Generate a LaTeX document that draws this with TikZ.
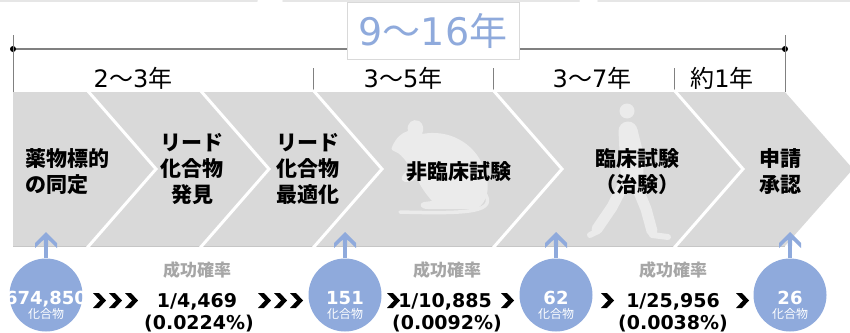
\documentclass[tikz,border=0pt]{standalone}
\usepackage{fontspec}
\setmainfont{Noto Sans CJK JP}
\newfontfamily\numfont{DejaVu Sans}
\usetikzlibrary{arrows.meta}
\definecolor{band}{HTML}{D9D9D9}
\definecolor{bandedge}{HTML}{C6C6C6}
\definecolor{accent}{HTML}{8FAADC}
\definecolor{ghost}{HTML}{EBEBEB}
\definecolor{note}{HTML}{A6A6A6}
\definecolor{axis}{HTML}{808080}
\definecolor{rimgray}{HTML}{E6E6E6}
\tikzset{
  chev/.pic={\fill[black] (0,0) -- (6,0) -- (13,7.5) -- (6,15) -- (0,15) -- (7,7.5) -- cycle;},
  barb/.pic={\fill[accent] (0,0) -- (11,11) -- (11,16) -- (2.2,7.5) -- (2.2,14) -- (-2.2,14) -- (-2.2,7.5) -- (-11,16) -- (-11,11) -- cycle;}
}
\begin{document}
\begin{tikzpicture}[x=1pt,y=-1pt,
  phase/.style={font=\fontsize{21}{26}\selectfont\bfseries, align=center, inner sep=0pt, anchor=base},
  span/.style={font=\fontsize{24}{26}\selectfont, inner sep=0pt, anchor=base},
  stage/.style={circle, fill=accent, minimum size=73pt, inner sep=0pt},
  num/.style={font=\numfont\fontsize{18}{20}\selectfont\bfseries, text=white, inner sep=0pt, anchor=base},
  unit/.style={font=\fontsize{12}{14}\selectfont, text=white, inner sep=0pt, anchor=base},
  ratehead/.style={font=\fontsize{17}{18}\selectfont\bfseries, text=note, inner sep=0pt, anchor=base},
  rate/.style={font=\numfont\fontsize{19}{22}\selectfont\bfseries, inner sep=0pt, anchor=base},
  up/.style={draw=accent, line width=4.4pt},
  axisline/.style={draw=axis, line width=1.2pt},
  tick/.style={draw=axis, line width=0.8pt},
  sep/.style={draw=white, line width=3pt, line join=miter}
]
\useasboundingbox (0,0) rectangle (850,332);

% faint strip along the upper edge
\draw[rimgray, line width=2pt, line cap=round] (0,1) -- (257,1);
\draw[rimgray, line width=2pt, line cap=round] (283,1) -- (579,1);
\draw[rimgray, line width=2pt, line cap=round] (598,1) -- (850,1);

% overall timeline
\coordinate (tl) at (13,49);
\coordinate (tr) at (785,49);
\draw[axisline] (tl) -- (tr);
\fill[black] (tl) circle (3);
\fill[black] (tr) circle (3);
\draw[tick] (13,35) -- (13,92);
\draw[tick] (785,35) -- (785,92);
\node[draw=band, fill=white, line width=0.8pt, minimum width=172pt, minimum height=57pt, inner sep=0pt,
      font=\fontsize{38}{40}\selectfont, text=accent] (total) at (433,30.5)
      {{\numfont 9}～{\numfont 16}年};

% phase spans
\draw[tick] (313,68) -- (313,91);
\draw[tick] (493,68) -- (493,91);
\draw[tick] (674,68) -- (674,91);
\node[span] (y1) at (133,87) {{\numfont 2}～{\numfont 3}年};
\node[span] (y2) at (403,87) {{\numfont 3}～{\numfont 5}年};
\node[span] (y3) at (592,87) {{\numfont 3}～{\numfont 7}年};
\node[span] (y4) at (722,87) {約{\numfont 1}年};

% chevron band
\fill[band] (13,92) -- (785,92) -- (853,169) -- (785,246) -- (13,246) -- cycle;
\draw[bandedge, line width=1pt] (13,246) -- (785,246);
\foreach \s in {87,200,313,493,674}
  \draw[sep] (\s,90) -- (\s+69,169) -- (\s,248);

% mouse silhouette
\fill[ghost] (392,147) .. controls (396,138) and (401,133) .. (408,131)
  .. controls (406,123) and (413,118) .. (419,121)
  .. controls (424,124) and (424,130) .. (422,134)
  .. controls (448,129) and (474,142) .. (484,168)
  .. controls (491,186) and (488,203) .. (476,209)
  -- (428,209) .. controls (420,209) and (418,204) .. (424,202)
  -- (432,201) .. controls (426,194) and (420,186) .. (417,178)
  .. controls (412,182) and (405,184) .. (402,180)
  .. controls (400,176) and (406,172) .. (410,168)
  .. controls (406,160) and (402,156) .. (398,153)
  .. controls (394,151) and (390,150) .. (392,147) -- cycle;
\draw[ghost, line width=3.5pt, line cap=round] (484,192) .. controls (498,212) and (470,214) .. (400,212);

% walking figure
\fill[ghost] (627,111) circle (7.5);
\draw[ghost, line width=19pt, line cap=round] (628,131) -- (630,172);
\draw[ghost, line width=11pt, line cap=round, line join=round] (626,180) -- (612,207) -- (597,229);
\draw[ghost, line width=6pt, line cap=round] (598,231) -- (590,235);
\draw[ghost, line width=11pt, line cap=round, line join=round] (634,180) -- (646,209) -- (652,231);
\draw[ghost, line width=6pt, line cap=round] (652,235) -- (668,237);
\draw[ghost, line width=7pt, line cap=round, line join=round] (634,130) -- (639,150) -- (640,174);

% phase labels (base = baseline of the last line)
\node[phase, align=left, anchor=base west] (p1) at (25,192) {薬物標的\\の同定};
\node[phase] (p2) at (192,202) {リード\\化合物\\発見};
\node[phase] (p3) at (308,202) {リード\\化合物\\最適化};
\node[phase] (p4) at (459,179) {非臨床試験};
\node[phase] (p5) at (637,192) {臨床試験\\（治験）};
\node[phase] (p6) at (780,192) {申請\\承認};

% compound counts
\node[stage] (c1) at (46,295) {};
\node[stage] (c2) at (345,295) {};
\node[stage] (c3) at (556,295) {};
\node[stage] (c4) at (790,295) {};
\foreach \c/\n in {c1/674{,}850, c2/151, c3/62, c4/26} {
  \node[num] at ([yshift=-9pt]\c.center) {\n};
  \node[unit] at ([yshift=-23pt]\c.center) {化合物};
}
\coordinate (t1) at (46,232);
\coordinate (t2) at (345,232);
\coordinate (t3) at (556,232);
\coordinate (t4) at (790,232);
\foreach \i in {1,2,3,4} {
  \draw[up] (c\i.north) -- ([yshift=-12pt]t\i);
  \pic at (t\i) {barb};
}

% success rates
\node[ratehead] (h1) at (197,276) {成功確率};
\node[ratehead] (h2) at (447,276) {成功確率};
\node[ratehead] (h3) at (673,276) {成功確率};
\node[rate] (r1) at (197,307) {1/4,469};
\node[rate] (r2) at (445,307) {1/10,885};
\node[rate] (r3) at (673,307) {1/25,956};
\node[rate] (q1) at (199,329) {(0.0224\%)};
\node[rate] (q2) at (447,329) {(0.0092\%)};
\node[rate] (q3) at (673,329) {(0.0038\%)};

% flow markers
\foreach \x in {93,109,125,258,274,290,387,501,601,736}
  \pic at (\x,293) {chev};
\end{tikzpicture}
\end{document}
